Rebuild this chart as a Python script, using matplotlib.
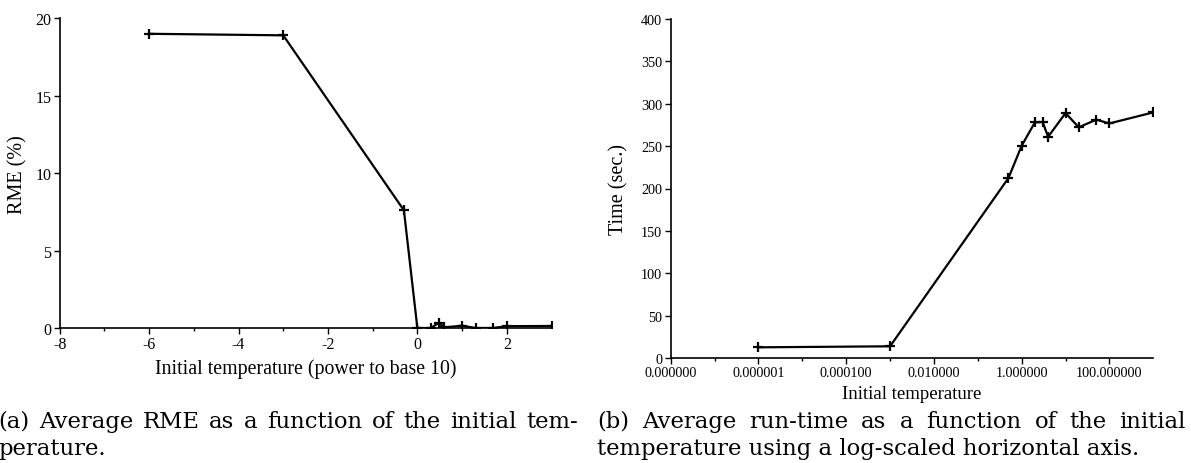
import matplotlib
matplotlib.use("Agg")
import matplotlib.pyplot as plt
import numpy as np
from matplotlib.ticker import FixedLocator, FuncFormatter

plt.rcParams['font.family'] = ['Liberation Serif', 'DejaVu Serif']
plt.rcParams['axes.unicode_minus'] = False

# initial temperatures used in the experiments
temps = [1e-6, 1e-3, 0.5, 1, 2, 3, 4, 10, 20, 50, 100, 1000]
# average RME (%) per temperature
rme = [19.0, 18.9, 7.6, 0.0, 0.0, 0.33, 0.04, 0.15, 0.0, 0.0, 0.12, 0.13]
# average run-time (sec.) per temperature
runtime = [12.6, 13.8, 212.4, 250.5, 278.0, 278.5, 261.0, 289.0, 272.2, 281.2, 276.8, 289.8]

left_ticks = [-8, -6, -4, -2, 0, 2]
right_ticks = [1e-8, 1e-6, 1e-4, 1e-2, 1, 100]

cap_a = ["(a) Average RME as a function of the initial tem-", "perature."]
cap_b = ["(b) Average run-time as a function of the initial",
         "temperature using a log-scaled horizontal axis."]

W, H = 1191, 464
fig = plt.figure(figsize=(W / 100, H / 100), dpi=100)

line_kw = dict(color='black', lw=1.6, marker='+', ms=7, mew=1.6)

# (a) RME vs log10 temperature
ax1 = fig.add_axes([59.7 / W, 1 - 329 / H, 491.8 / W, 309.7 / H])
ax1.plot(np.log10(temps), rme, **line_kw)
ax1.set_xlim(-8, 3)
ax1.set_ylim(0, 20)
ax1.set_xticks(left_ticks)
ax1.xaxis.set_minor_locator(FixedLocator([-7, -5, -3, -1, 1]))
ax1.set_yticks([0, 5, 10, 15, 20])
ax1.set_xlabel("Initial temperature (power to base 10)", fontsize=14.3, labelpad=4)
ax1.set_ylabel("RME (%)", fontsize=14.5, labelpad=6)
ax1.tick_params(which='major', labelsize=11.5)

# (b) run-time vs temperature, log x axis
ax2 = fig.add_axes([670.7 / W, 1 - 359 / H, 482.6 / W, 339 / H])
ax2.plot(temps, runtime, **line_kw)
ax2.set_xscale('log')
ax2.set_xlim(1e-8, 1e3)
ax2.set_ylim(0, 400)
ax2.xaxis.set_major_locator(FixedLocator(right_ticks))
ax2.xaxis.set_minor_locator(FixedLocator([1e-7, 1e-5, 1e-3, 1e-1, 10]))
ax2.xaxis.set_major_formatter(FuncFormatter(lambda v, p: '%f' % v))
ax2.xaxis.set_minor_formatter(FuncFormatter(lambda v, p: ''))
ax2.set_yticks(range(0, 401, 50))
ax2.set_xlabel("Initial temperature", fontsize=13.5, labelpad=4)
ax2.set_ylabel("Time (sec.)", fontsize=14.5, labelpad=9)
ax2.tick_params(which='major', labelsize=10.2)

for ax in (ax1, ax2):
    ax.spines['top'].set_visible(False)
    ax.spines['right'].set_visible(False)
    ax.spines['left'].set_linewidth(1.2)
    ax.spines['bottom'].set_linewidth(1.2)
    ax.tick_params(which='major', direction='out', length=4, width=1, pad=2)
    ax.tick_params(which='minor', direction='out', length=2.5, width=1)

# captions, justified like the source document
cap_font = dict(family='DejaVu Serif', fontsize=16.4)
renderer = fig.canvas.get_renderer()


def justify(words, x0, x1, y):
    arts = [fig.text(0, 1 - y / H, w, va='baseline', ha='left', **cap_font)
            for w in words]
    widths = [a.get_window_extent(renderer).width for a in arts]
    gap = (x1 - x0 - sum(widths)) / max(len(words) - 1, 1)
    gap = max(gap, 5)
    x = x0
    for a, w in zip(arts, widths):
        a.set_x(x / W)
        x += w + gap


def plain(text, x0, y):
    fig.text(x0 / W, 1 - y / H, text, va='baseline', ha='left', **cap_font)


justify(cap_a[0].split(), -2, 578, 428)
plain(cap_a[1], -2, 455)
justify(cap_b[0].split(), 597, 1186, 428)
plain(cap_b[1], 597, 455)

fig.savefig("out.png", dpi=100)
